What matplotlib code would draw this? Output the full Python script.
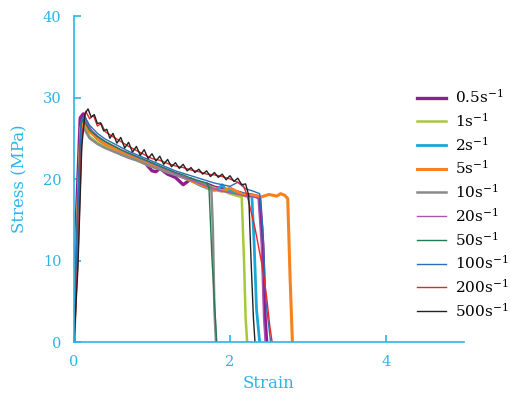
import matplotlib
matplotlib.use("Agg")
import matplotlib.pyplot as plt

labels = [r"0.5s$^{-1}$", r"1s$^{-1}$", r"2s$^{-1}$", r"5s$^{-1}$", r"10s$^{-1}$",
          r"20s$^{-1}$", r"50s$^{-1}$", r"100s$^{-1}$", r"200s$^{-1}$", r"500s$^{-1}$"]

x_05 = [0, 0.03, 0.08, 0.12, 0.16, 0.22, 0.3, 0.4, 0.5, 0.6, 0.7, 0.8, 0.9, 1.0, 1.05, 1.1, 1.2, 1.3, 1.4, 1.5,
        1.6, 1.7, 1.8, 1.9, 2.0, 2.1, 2.2, 2.3, 2.38, 2.42, 2.45, 2.47]
y_05 = [0, 15, 27.5, 28, 26.8, 25.8, 25, 24.3, 23.8, 23.3, 22.9, 22.5, 22.1, 21.0, 20.9, 21.3, 20.6, 20.2, 19.3, 20.0,
        19.5, 19.4, 19.0, 18.8, 18.6, 18.4, 18.1, 18.0, 17.8, 12, 3, 0]

x_1 = [0, 0.04, 0.09, 0.13, 0.2, 0.3, 0.4, 0.5, 0.6, 0.7, 0.8, 0.9, 1.0, 1.1, 1.2, 1.3, 1.4, 1.5, 1.6, 1.7, 1.8,
       1.9, 2.0, 2.1, 2.15, 2.18, 2.2, 2.22]
y_1 = [0, 14, 26, 26.6, 25.2, 24.5, 24.0, 23.6, 23.2, 22.7, 22.3, 21.9, 21.5, 21.2, 20.9, 20.6, 20.2, 19.8, 19.5,
       19.2, 18.9, 18.6, 18.2, 17.9, 17.8, 10, 3, 0]

x_2 = [0, 0.04, 0.09, 0.13, 0.2, 0.3, 0.4, 0.5, 0.6, 0.7, 0.8, 0.9, 1.0, 1.1, 1.2, 1.3, 1.4, 1.5, 1.6, 1.7, 1.8,
       1.85, 1.9, 1.95, 2.0, 2.1, 2.2, 2.28, 2.31, 2.34, 2.38]
y_2 = [0, 14, 26.5, 27.3, 26.0, 25.1, 24.4, 23.9, 23.4, 23.0, 22.5, 22.1, 21.7, 21.3, 21.0, 20.6, 20.2, 19.8, 19.3,
       18.9, 18.6, 18.8, 19.3, 18.6, 18.5, 18.3, 18.1, 18.0, 12, 4, 0]

x_5 = [0, 0.04, 0.09, 0.13, 0.2, 0.3, 0.4, 0.5, 0.6, 0.7, 0.8, 0.9, 1.0, 1.1, 1.2, 1.3, 1.4, 1.5, 1.6, 1.7, 1.8,
       1.9, 2.0, 2.1, 2.2, 2.3, 2.4, 2.5, 2.6, 2.65, 2.7, 2.74, 2.77, 2.8]
y_5 = [0, 14, 26.3, 26.9, 25.8, 25.0, 24.3, 23.8, 23.4, 23.0, 22.6, 22.2, 21.8, 21.4, 21.0, 20.6, 20.2, 19.8, 19.4,
       19.0, 18.7, 18.5, 18.9, 18.4, 17.9, 18.0, 17.8, 18.1, 17.9, 18.2, 18.0, 17.6, 8, 0]

x_10 = [0, 0.04, 0.09, 0.13, 0.2, 0.3, 0.4, 0.5, 0.6, 0.7, 0.8, 0.9, 1.0, 1.1, 1.2, 1.3, 1.4, 1.5, 1.6, 1.7,
        1.76, 1.78, 1.8, 1.82]
y_10 = [0, 13, 25.5, 26.2, 25.0, 24.3, 23.8, 23.4, 23.0, 22.6, 22.3, 21.9, 21.5, 21.2, 20.8, 20.5, 20.2, 19.9,
        19.6, 19.3, 19.0, 14, 4, 0]

x_20 = [0, 0.04, 0.09, 0.13, 0.2, 0.3, 0.4, 0.5, 0.6, 0.7, 0.8, 0.9, 1.0, 1.1, 1.2, 1.3, 1.4, 1.5, 1.6, 1.7, 1.8,
        1.9, 2.0, 2.1, 2.2, 2.3, 2.36, 2.4, 2.43, 2.45]
y_20 = [0, 15, 27, 27.6, 26.2, 25.3, 24.6, 24.1, 23.6, 23.1, 22.7, 22.3, 21.9, 21.5, 21.1, 20.7, 20.3, 19.9, 19.5,
        19.1, 18.8, 18.5, 18.3, 18.1, 17.9, 17.8, 17.6, 12, 3, 0]

x_50 = [0, 0.04, 0.09, 0.12, 0.2, 0.3, 0.4, 0.5, 0.6, 0.7, 0.8, 0.9, 1.0, 1.1, 1.2, 1.3, 1.4, 1.5, 1.6, 1.7,
        1.73, 1.77, 1.83]
y_50 = [0, 14, 26.8, 27.3, 26.0, 25.2, 24.6, 24.1, 23.6, 23.2, 22.8, 22.4, 22.0, 21.6, 21.2, 20.8, 20.5, 20.1,
        19.8, 19.5, 19.0, 10, 0]

x_100 = [0, 0.04, 0.09, 0.13, 0.2, 0.3, 0.4, 0.5, 0.6, 0.7, 0.8, 0.9, 1.0, 1.1, 1.2, 1.3, 1.4, 1.5, 1.6, 1.7, 1.8,
         1.9, 2.0, 2.1, 2.2, 2.3, 2.38, 2.42, 2.46, 2.52]
y_100 = [0, 14, 27, 27.8, 26.6, 25.6, 24.9, 24.4, 23.9, 23.4, 23.0, 22.6, 22.2, 21.8, 21.4, 21.0, 20.7, 20.4, 20.1,
         19.8, 19.5, 19.3, 19.1, 19.6, 18.8, 18.5, 18.2, 14, 5, 0]

x_200 = [0, 0.05, 0.1, 0.15, 0.2, 0.25, 0.3, 0.35, 0.4, 0.5, 0.6, 0.7, 0.8, 0.9, 1.0, 1.1, 1.2, 1.3, 1.4, 1.5, 1.6,
         1.7, 1.8, 1.9, 2.0, 2.1, 2.17, 2.22, 2.27, 2.32, 2.37, 2.42, 2.47, 2.51, 2.54]
y_200 = [0, 10, 25, 28.3, 27.4, 27.8, 26.5, 26.8, 25.8, 25.2, 24.6, 24.0, 23.5, 23.0, 22.5, 22.3, 21.9, 21.6, 21.4,
         21.1, 20.9, 20.6, 20.5, 20.3, 20.0, 19.6, 19.2, 18.0, 16.0, 14.0, 11.5, 9.0, 5.5, 2.0, 0]

x_500 = [0, 0.05, 0.1, 0.14, 0.18, 0.22, 0.26, 0.30, 0.34, 0.38, 0.42, 0.46, 0.50, 0.55, 0.60, 0.65, 0.70, 0.75,
         0.80, 0.85, 0.90, 0.95, 1.00, 1.05, 1.10, 1.15, 1.20, 1.25, 1.30, 1.35, 1.40, 1.45, 1.50, 1.55, 1.60, 1.65,
         1.70, 1.75, 1.80, 1.85, 1.90, 1.95, 2.00, 2.05, 2.10, 2.15, 2.20, 2.24, 2.27, 2.30, 2.32]
y_500 = [0, 9, 24, 28.0, 28.6, 27.6, 27.9, 26.8, 26.9, 25.9, 26.1, 25.0, 25.6, 24.4, 25.1, 23.8, 24.5, 23.3, 24.0,
         22.9, 23.6, 22.5, 23.1, 22.2, 22.8, 21.8, 22.4, 21.5, 22.0, 21.3, 21.8, 21.0, 21.4, 20.8, 21.2, 20.6, 21.0,
         20.3, 20.8, 20.2, 20.6, 19.9, 20.4, 19.7, 20.1, 19.3, 19.4, 18.0, 10, 3, 0]

xs = [x_05, x_1, x_2, x_5, x_10, x_20, x_50, x_100, x_200, x_500]
ys = [y_05, y_1, y_2, y_5, y_10, y_20, y_50, y_100, y_200, y_500]
colors = ["#8e1e8e", "#a6c93a", "#1aa6d8", "#f5821f", "#8a8a8a",
          "#a855b0", "#1f7a55", "#2a6fb5", "#e8262a", "#222222"]
widths = [2.4, 1.8, 2.0, 2.2, 1.8, 1.0, 1.0, 1.0, 1.0, 1.0]

blue = "#29b5e8"
plt.rcParams["font.family"] = ["DejaVu Serif"]
plt.rcParams["mathtext.fontset"] = "dejavuserif"

fig = plt.figure(figsize=(5.11, 3.94), dpi=100)
ax = fig.add_axes([74 / 511, 1 - 342 / 394, (464 - 74) / 511, (342 - 16) / 394])

handles = []
for x, y, c, w, lab in zip(xs, ys, colors, widths, labels):
    h, = ax.plot(x, y, color=c, lw=w, label=lab)
    handles.append(h)

ax.set_xlim(0, 5)
ax.set_ylim(0, 40)
ax.set_xticks([0, 2, 4])
ax.set_yticks([0, 10, 20, 30, 40])
for s in ["top", "right"]:
    ax.spines[s].set_visible(False)
for s in ["left", "bottom"]:
    ax.spines[s].set_color(blue)
    ax.spines[s].set_linewidth(1.2)
ax.tick_params(direction="in", colors=blue, labelcolor=blue, labelsize=10.5, length=5, width=1.2, pad=9)
ax.set_xlabel("Strain", color=blue, fontsize=12, labelpad=5)
ax.set_ylabel("Stress (MPa)", color=blue, fontsize=12, labelpad=10)

fig.legend(handles=handles, loc="upper left", bbox_to_anchor=(411 / 511, 1 - 82 / 394),
           frameon=False, fontsize=11, handlelength=1.9, labelspacing=0.38, handletextpad=0.6,
           borderaxespad=0)

fig.savefig("out.png", dpi=100)
